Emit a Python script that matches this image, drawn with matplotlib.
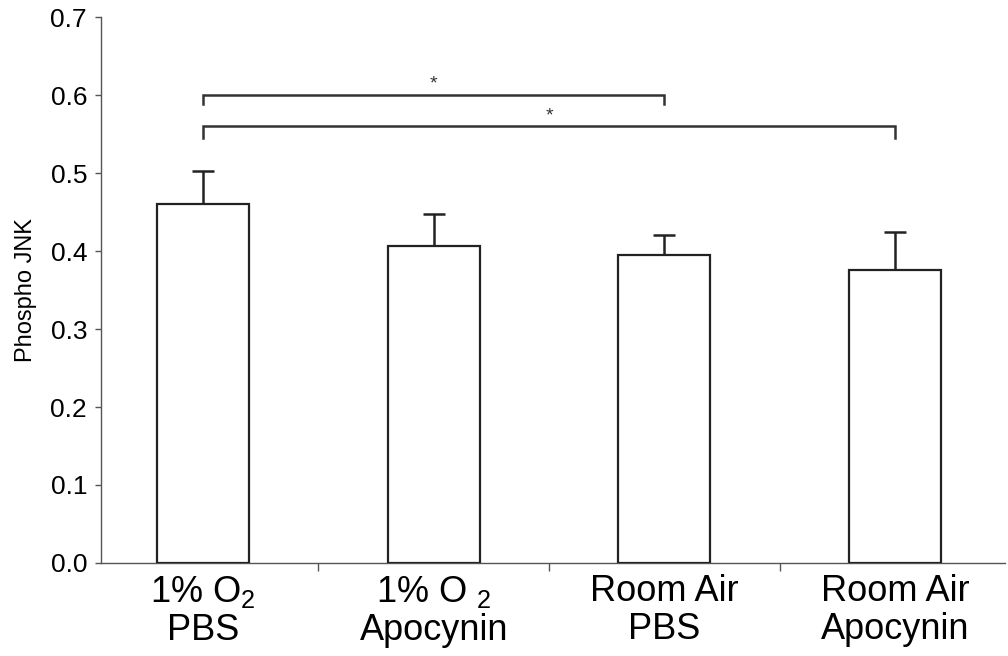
import matplotlib
matplotlib.use("Agg")
import matplotlib.pyplot as plt
import numpy as np

plt.rcParams["font.family"] = ["Liberation Sans", "DejaVu Sans"]
plt.rcParams["mathtext.fontset"] = "custom"
plt.rcParams["mathtext.rm"] = "Liberation Sans"
plt.rcParams["mathtext.it"] = "Liberation Sans"

groups = ["1% O$_2$\nPBS", "1% O $_2$\nApocynin", "Room Air\nPBS", "Room Air\nApocynin"]
means = [0.460, 0.406, 0.395, 0.376]
errors = [0.043, 0.041, 0.025, 0.048]

# significance brackets: (left group, right group, bracket height, drop)
brackets = [(0, 2, 0.600, 0.588), (0, 3, 0.560, 0.545)]
star_pos = [(1.0, 0.614), (1.5, 0.573)]

fig = plt.figure(figsize=(10.08, 6.56), dpi=100)
ax = fig.add_axes([0.1002, 0.1418, 0.897, 0.8322])

x = np.arange(len(groups))
ax.bar(x, means, width=0.4, color="white", edgecolor="#222222", linewidth=1.6, zorder=3)
ax.errorbar(x, means, yerr=[np.zeros(len(errors)), errors], fmt="none",
            ecolor="#222222", elinewidth=1.8, capsize=8, capthick=1.8, zorder=2)

for (a, b, h, d), (sx, sy) in zip(brackets, star_pos):
    ax.plot([a, a, b, b], [d, h, h, d], color="#333333", linewidth=1.8, solid_joinstyle="miter")
    ax.text(sx, sy, "*", ha="center", va="center", fontsize=14, color="#333333")

ax.set_ylim(0, 0.7)
ax.set_xlim(-0.443, 3.478)
ax.set_yticks(np.arange(0, 0.71, 0.1))
ax.set_yticklabels([f"{v:.1f}" for v in np.arange(0, 0.71, 0.1)], fontsize=19)
ax.set_xticks(x)
ax.set_xticklabels(groups, fontsize=26, linespacing=1.1)
ax.set_xticks([0.5, 1.5, 2.5], minor=True)
ax.tick_params(axis="x", which="major", length=0, pad=8)
ax.tick_params(axis="x", which="minor", length=6, color="#555555", width=1)
ax.tick_params(axis="y", length=4, color="#555555", width=1, pad=6)
ax.set_ylabel("Phospho JNK", fontsize=17, labelpad=10)

for side in ["top", "right"]:
    ax.spines[side].set_visible(False)
for side in ["left", "bottom"]:
    ax.spines[side].set_color("#555555")
    ax.spines[side].set_linewidth(1)

fig.savefig("out.png", dpi=100)
